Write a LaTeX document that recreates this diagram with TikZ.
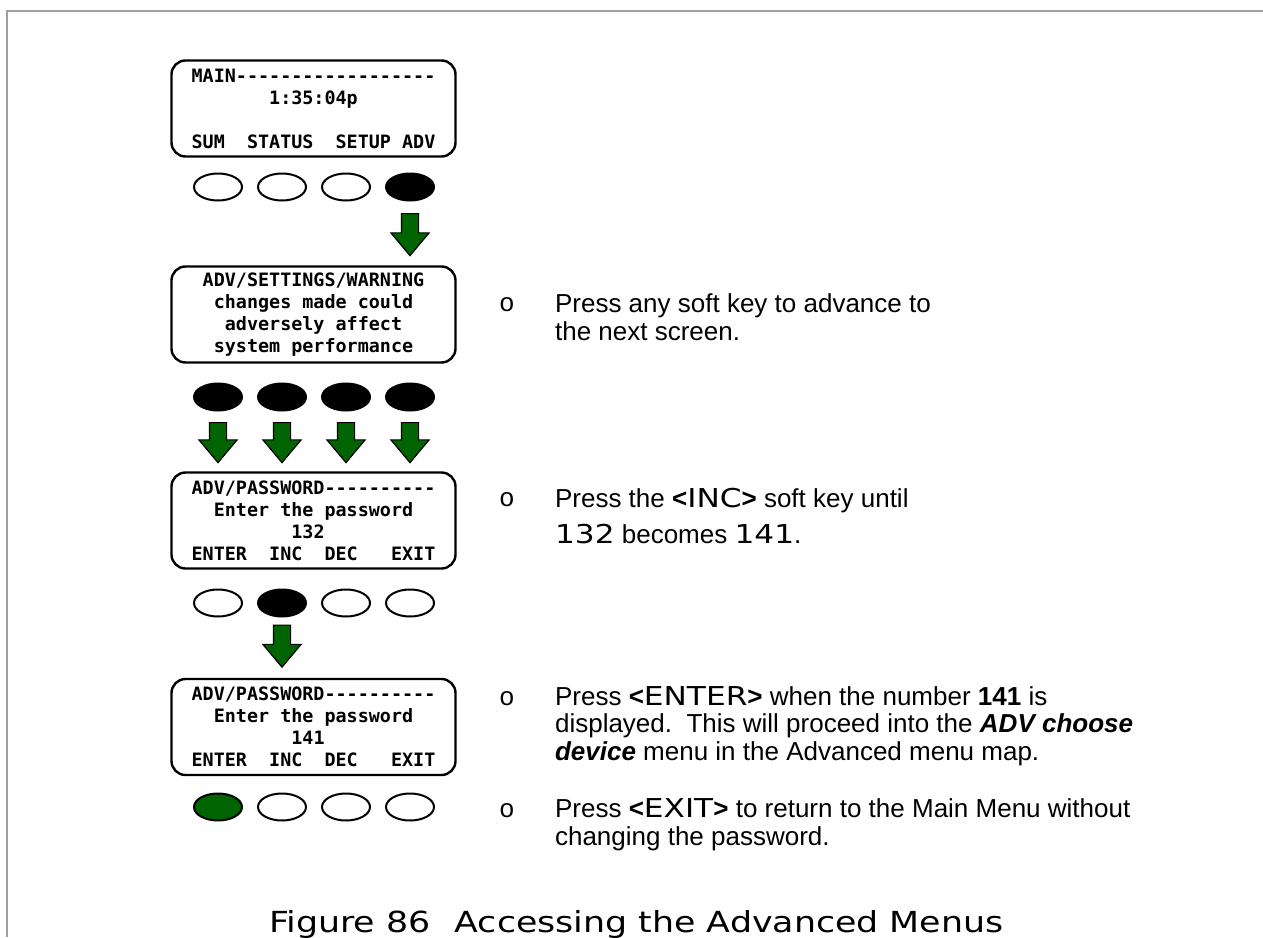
\documentclass[tikz,border=0pt]{standalone}
\usepackage{fontspec}
\setmainfont{Liberation Sans}
\setmonofont{DejaVu Sans Mono}
\newfontfamily\widefont[FakeStretch=1.2]{DejaVu Sans}
\newfontfamily\bulletfont{Liberation Mono}
\usetikzlibrary{shapes.geometric,shapes.arrows}
\definecolor{keygreen}{RGB}{0,100,0}
\definecolor{pagegray}{RGB}{160,160,160}

\begin{document}
\begin{tikzpicture}[x=0.5pt, y=-0.5pt,
  lcd/.style={draw, line width=1.2pt, rounded corners=7pt, minimum width=142pt, minimum height=48pt, inner sep=0pt, align=left, font=\ttfamily\bfseries\fontsize{9.2}{11}\selectfont},
  key/.style={ellipse, draw, line width=1pt, minimum width=24pt, minimum height=13.5pt, inner sep=0pt, fill=white},
  push/.style={key, fill=black},
  downarrow/.style={single arrow, draw, line width=0.6pt, fill=keygreen, rotate=-90, minimum width=18.5pt, minimum height=21pt, single arrow head extend=5.25pt, single arrow tip angle=80, inner xsep=0pt, inner ysep=4pt},
  bullet/.style={anchor=base, font=\bulletfont\fontsize{13}{14}\selectfont},
  note/.style={anchor=base west, align=left, font=\fontsize{13}{13.75}\selectfont}]
\useasboundingbox (0,0) rectangle (1263,937);
\draw[pagegray, line width=1.2pt] (7,937) -- (7,11) -- (1263,11);

\node[lcd] (main) at (313.5,108.5) {MAIN------------------\\~~~~~~~1:35:04p\\~\\SUM~~STATUS~~SETUP~ADV};
\node[key] (k11) at (218,187) {};
\node[key] (k12) at (282,187) {};
\node[key] (k13) at (346,187) {};
\node[push] (k14) at (410,187) {};
\node[downarrow] (a1) at (410,229.5) {};

\node[lcd, align=center] (warn) at (313.5,314.5) {ADV/SETTINGS/WARNING\\changes made could\\adversely affect\\system performance};
\node[push] (k21) at (218,397) {};
\node[push] (k22) at (282,397) {};
\node[push] (k23) at (346,397) {};
\node[push] (k24) at (410,397) {};
\node[downarrow, minimum height=20pt] (a21) at (218,437.5) {};
\node[downarrow, minimum height=20pt] (a22) at (282,437.5) {};
\node[downarrow, minimum height=20pt] (a23) at (346,437.5) {};
\node[downarrow, minimum height=20pt] (a24) at (410,437.5) {};

\node[lcd] (pass) at (313.5,520.5) {ADV/PASSWORD----------\\~~Enter the password\\~~~~~~~~~132\\ENTER~~INC~~DEC~~~EXIT};
\node[key] (k31) at (218,603) {};
\node[push] (k32) at (282,603) {};
\node[key] (k33) at (346,603) {};
\node[key] (k34) at (410,603) {};
\node[downarrow] (a3) at (282,641) {};

\node[lcd] (done) at (313.5,727) {ADV/PASSWORD----------\\~~Enter the password\\~~~~~~~~~141\\ENTER~~INC~~DEC~~~EXIT};
\node[key, fill=keygreen] (k41) at (218,807) {};
\node[key] (k42) at (282,807) {};
\node[key] (k43) at (346,807) {};
\node[key] (k44) at (410,807) {};

% base west of a note sits on its last line
\node[bullet] (o1) at (507,311) {o};
\node[note] (t1) at (548,340) {Press any soft key to advance to\\the next screen.};
\node[bullet] (o2) at (507,506) {o};
\node[note] (t2) at (548,543) {Press the \textbf{<}{\widefont INC}\textbf{>} soft key until\\[4pt]{\widefont 132} becomes {\widefont 141}.};
\node[bullet] (o3) at (507,705) {o};
\node[note] (t3) at (548,760) {Press \textbf{<}{\widefont ENTER}\textbf{>} when the number \textbf{141} is\\displayed.\ \ This will proceed into the \textbf{\textit{ADV choose}}\\\textbf{\textit{device}} menu in the Advanced menu map.};
\node[bullet] (o4) at (507,817) {o};
\node[note] (t4) at (548,845) {Press \textbf{<}{\widefont EXIT}\textbf{>} to return to the Main Menu without\\changing the password.};

\node[anchor=base west, font=\widefont\fontsize{14.5}{17}\selectfont] (cap) at (262,932) {Figure 86\hspace{12pt}Accessing the Advanced Menus};
\end{tikzpicture}
\end{document}
